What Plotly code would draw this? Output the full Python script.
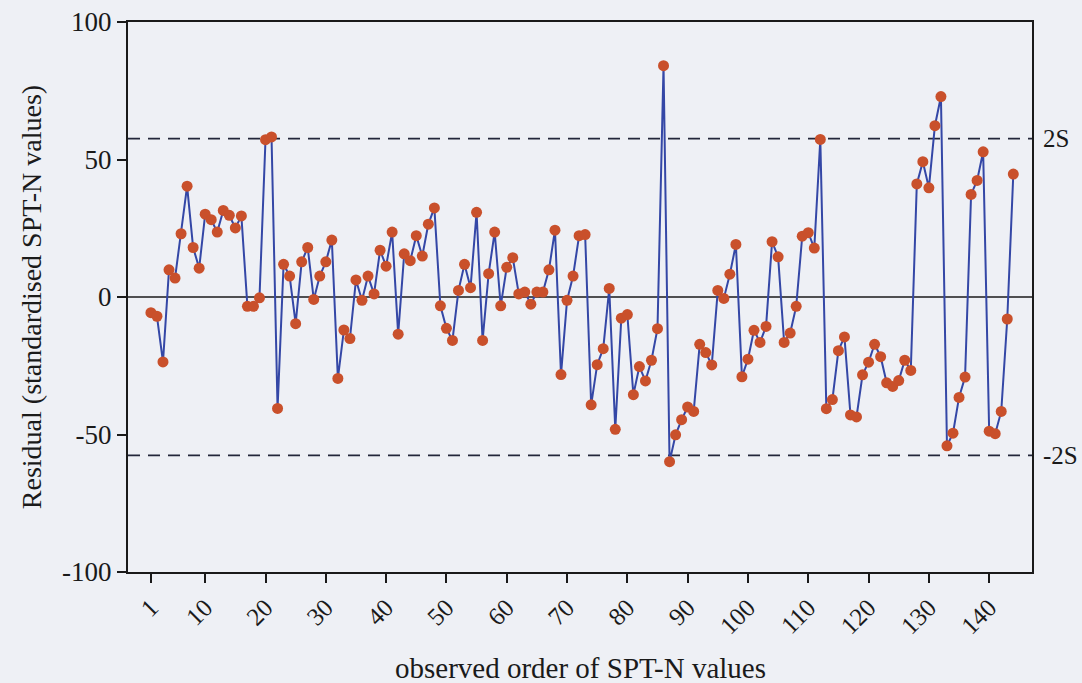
import plotly.graph_objects as go

# Residuals of standardised SPT-N values, in observed order
order = list(range(1, 145))
residual = [
    -5.7, -7.0, -23.6, 9.9, 6.9, 23.0, 40.3, 18.0, 10.5, 30.1,
    28.1, 23.6, 31.5, 29.7, 25.1, 29.5, -3.4, -3.4, -0.3, 57.2,
    58.2, -40.5, 11.9, 7.6, -9.7, 12.8, 18.0, -0.9, 7.6, 12.8,
    20.7, -29.6, -12.0, -15.1, 6.2, -1.2, 7.6, 1.1, 17.0, 11.2,
    23.6, -13.5, 15.7, 13.2, 22.3, 14.9, 26.5, 32.4, -3.2, -11.4,
    -15.8, 2.4, 11.9, 3.4, 30.8, -15.8, 8.5, 23.6, -3.2, 10.8,
    14.3, 1.1, 1.8, -2.6, 1.8, 1.8, 9.9, 24.3, -28.2, -1.2,
    7.6, 22.3, 22.7, -39.2, -24.6, -18.8, 3.1, -48.1, -7.7, -6.4,
    -35.5, -25.3, -30.5, -23.0, -11.5, 84.1, -59.9, -50.1, -44.6, -40.0,
    -41.6, -17.2, -20.2, -24.7, 2.4, -0.5, 8.3, 19.1, -29.0, -22.6,
    -12.1, -16.5, -10.7, 20.1, 14.6, -16.5, -13.1, -3.4, 22.1, 23.4,
    17.8, 57.3, -40.6, -37.3, -19.5, -14.5, -42.9, -43.6, -28.3, -23.7,
    -17.2, -21.7, -31.2, -32.5, -30.4, -23.0, -26.7, 41.1, 49.2, 39.7,
    62.3, 72.9, -54.1, -49.5, -36.5, -29.1, 37.3, 42.4, 52.8, -48.8,
    -49.7, -41.6, -8.0, 44.7,
]

# Two-standard-deviation control limits
two_s = 57.6
limit_labels = ["2S", "-2S"]
limit_values = [two_s, -two_s]

x_ticks = [1, 10, 20, 30, 40, 50, 60, 70, 80, 90, 100, 110, 120, 130, 140]
y_ticks = [-100, -50, 0, 50, 100]
y_tick_text = ["-100", "-50", "0", "50", "100"]

x_title = "observed order of SPT-N values"
y_title = "Residual (standardised SPT-N values)"

x_range = [-2.8, 147.1]
font_family = "Liberation Serif, Times New Roman, serif"
ink = "#1a1a1a"
bg = "#eef0f5"

fig = go.Figure()

# control limits (dashed)
for v in limit_values:
    fig.add_trace(go.Scatter(
        x=x_range, y=[v, v], mode="lines",
        line=dict(color="#23263a", width=1.6, dash="12px,8px"),
        hoverinfo="skip", showlegend=False,
    ))

# zero line
fig.add_trace(go.Scatter(
    x=x_range, y=[0, 0], mode="lines",
    line=dict(color=ink, width=1.4),
    hoverinfo="skip", showlegend=False,
))

fig.add_trace(go.Scatter(
    x=order, y=residual, mode="lines+markers",
    line=dict(color="#3447a6", width=2),
    marker=dict(color="#c9502b", size=11, line=dict(width=0)),
    showlegend=False,
))

for lab, v in zip(limit_labels, limit_values):
    fig.add_annotation(
        x=1.0, xref="paper", y=v, yref="y", text=lab, showarrow=False,
        xanchor="left", xshift=9,
        font=dict(family=font_family, size=25, color=ink),
    )

# x-axis title placed below the rotated tick labels
fig.add_annotation(
    x=0.5, xref="paper", y=-0.175, yref="paper", text=x_title,
    showarrow=False, xanchor="center", yanchor="middle",
    font=dict(family=font_family, size=29, color=ink),
)

fig.update_layout(
    width=1082, height=683,
    margin=dict(l=128, r=50, t=22, b=111, autoexpand=False),
    paper_bgcolor=bg, plot_bgcolor=bg,
    font=dict(family=font_family, color=ink),
    xaxis=dict(
        range=x_range, tickmode="array", tickvals=x_ticks,
        ticktext=[str(t) for t in x_ticks],
        tickangle=-45, ticks="outside", ticklen=9, tickwidth=1.5,
        tickcolor=ink, showgrid=False, zeroline=False,
        showline=True, linecolor=ink, linewidth=2, mirror=True,
        tickfont=dict(family=font_family, size=25),
        automargin=False,
    ),
    yaxis=dict(
        range=[-100, 100], tickmode="array", tickvals=y_ticks,
        ticktext=y_tick_text,
        ticks="outside", ticklen=9, tickwidth=1.5, tickcolor=ink,
        showgrid=False, zeroline=False,
        showline=True, linecolor=ink, linewidth=2, mirror=True,
        tickfont=dict(family=font_family, size=27),
        automargin=False,
        title=dict(text=y_title,
                   font=dict(family=font_family, size=28), standoff=12),
    ),
)

fig.write_html("out.html")
